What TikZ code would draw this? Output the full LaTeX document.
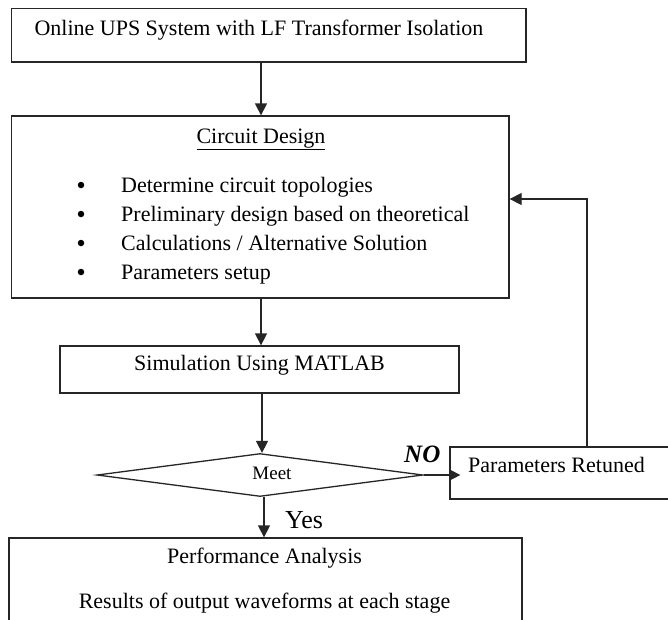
\documentclass[tikz,border=0pt]{standalone}
\usepackage{fontspec}
\setmainfont{Liberation Serif}
\usetikzlibrary{arrows.meta,shapes.geometric}
\begin{document}
\begin{tikzpicture}[x=1pt,y=-1pt,
  box/.style={draw=black!85,line width=1.3pt,rectangle,inner sep=0pt},
  txt/.style={inner sep=0pt,anchor=base,font=\fontsize{22}{26}\selectfont},
  txtw/.style={inner sep=0pt,anchor=base west,font=\fontsize{22}{26}\selectfont},
  conn/.style={draw=black!85,line width=1.3pt,-{Triangle[length=12pt,width=12pt]}}]
\useasboundingbox (0,0) rectangle (668,619);
\clip (0,0) rectangle (668,619);
% boxes
\node[box,minimum width=514.5pt,minimum height=53.5pt] (top) at (268.75,35.25) {};
\node[box,minimum width=497.5pt,minimum height=182pt] (cd) at (260.25,207) {};
\node[box,minimum width=399pt,minimum height=47pt] (sim) at (259.5,369.5) {};
\node[draw=black!85,line width=1.3pt,diamond,inner sep=0pt,minimum width=326pt,minimum height=43pt] (meet) at (260,475) {};
\node[box,minimum width=222pt,minimum height=52pt] (par) at (561,473) {};
\node[box,minimum width=513pt,minimum height=120pt] (perf) at (265.5,598) {};
% texts
\node[txt] (t1) at (259,35) {Online UPS System with LF Transformer Isolation};
\node[txt] (t2) at (261,143) {\underline{Circuit Design}};
\node[txtw] (b1) at (121,192) {Determine circuit topologies};
\node[txtw] (b2) at (121,221) {Preliminary design based on theoretical};
\node[txtw] (b3) at (121,250) {Calculations / Alternative Solution};
\node[txtw] (b4) at (121,279) {Parameters setup};
\foreach \y/\n in {192/d1,221/d2,250/d3,279/d4}
  \node[fill=black,circle,inner sep=0pt,minimum size=6.5pt] (\n) at (81,\y-7) {};
\node[txt] (t3) at (259.5,370) {Simulation Using MATLAB};
\node[txt,font=\fontsize{19}{22}\selectfont] (t4) at (272,479) {Meet};
\node[txtw] (t5) at (468,472) {Parameters Retuned};
\node[txt] (t6) at (264.5,563) {Performance Analysis};
\node[txt] (t7) at (264.5,608) {Results of output waveforms at each stage};
\node[inner sep=0pt,anchor=base west,font=\fontsize{25}{28}\selectfont\bfseries\itshape] (no) at (404,462) {NO};
\node[inner sep=0pt,anchor=base west,font=\fontsize{26}{30}\selectfont] (yes) at (285,528) {Yes};
% connectors
\draw[conn] (top.south -| 261,0) -- (cd.north -| 261,0);
\draw[conn] (cd.south -| 261,0) -- (sim.north -| 261,0);
\draw[conn] (sim.south -| 262,0) -- (meet.north -| 262,0);
\draw[conn] (meet.south -| 264,0) -- (perf.north -| 264,0);
\draw[conn,-{Triangle[length=10pt,width=10pt]},shorten >=-11pt] (meet.east) -- (meet.east -| par.west);
\coordinate (fb) at (587,199);
\draw[conn] (par.north -| fb) -- (fb) -- (fb -| cd.east);
\end{tikzpicture}
\end{document}
